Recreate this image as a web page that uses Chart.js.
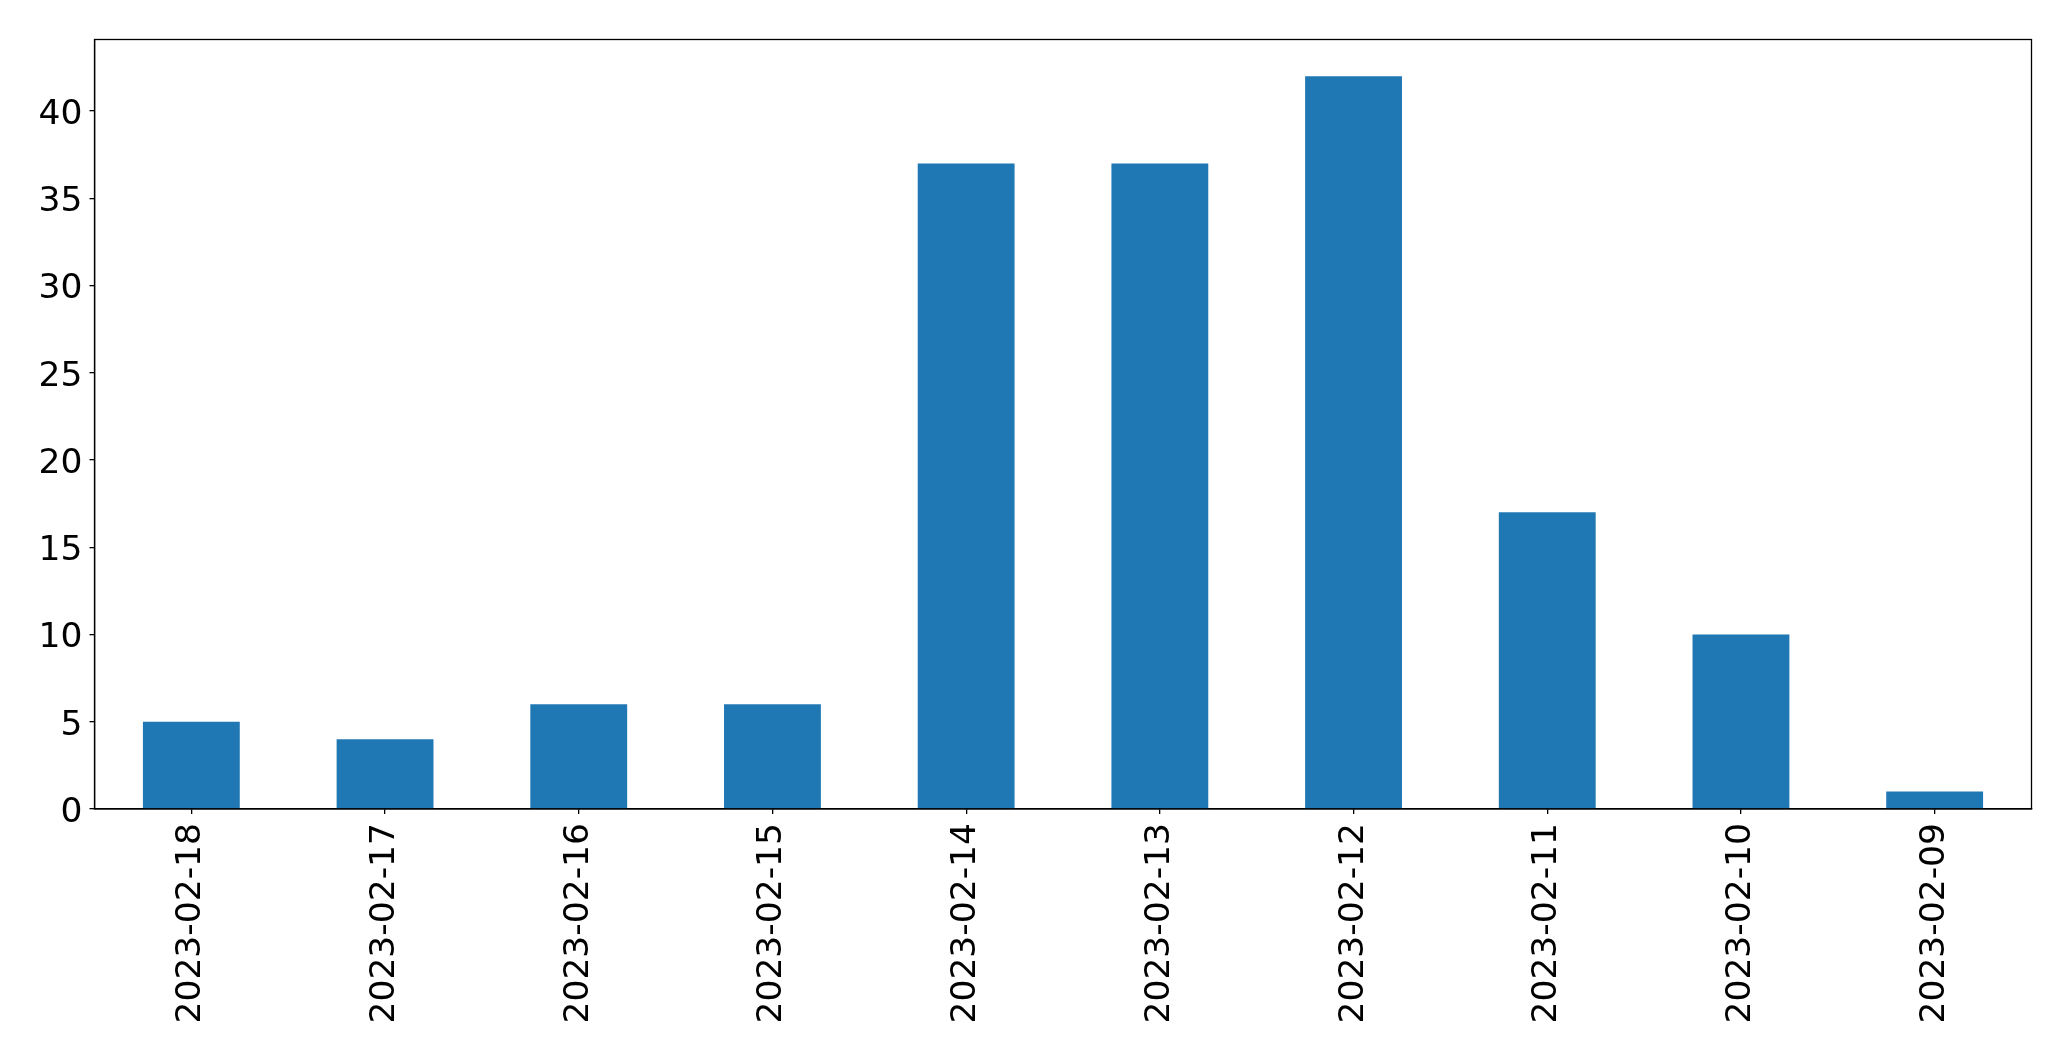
<!DOCTYPE html>
<html>
<head>
<meta charset="utf-8">
<script src="https://cdn.jsdelivr.net/npm/chart.js@4.4.1/dist/chart.umd.min.js"></script>
<style>
  html, body { margin: 0; padding: 0; background: #fff; }
  canvas { display: block; }
</style>
</head>
<body>
<canvas id="chart" width="2071" height="1061"></canvas>
<script>
const categories = ['2023-02-18', '2023-02-17', '2023-02-16', '2023-02-15', '2023-02-14',
  '2023-02-13', '2023-02-12', '2023-02-11', '2023-02-10', '2023-02-09'];
const counts = [5, 4, 6, 6, 37, 37, 42, 17, 10, 1];
const yTicks = [0, 5, 10, 15, 20, 25, 30, 35, 40];
const yMax = 44.1;

const FONT = 'DejaVu Sans';

// matplotlib-like frame around the axes
const frame = {
  id: 'frame',
  afterDraw(chart) {
    const { ctx, chartArea: a } = chart;
    ctx.save();
    ctx.strokeStyle = '#000';
    ctx.lineWidth = 1.3;
    ctx.strokeRect(a.left, a.top, a.right - a.left, a.bottom - a.top);
    ctx.restore();
  }
};

new Chart(document.getElementById('chart'), {
  type: 'bar',
  data: {
    labels: categories,
    datasets: [{
      data: counts,
      backgroundColor: '#1f77b4',
      borderWidth: 0,
      categoryPercentage: 1,
      barPercentage: 0.5
    }]
  },
  options: {
    responsive: false,
    animation: false,
    layout: { padding: { top: 39.5, right: 39.5, left: 0, bottom: 0 } },
    plugins: { legend: { display: false }, tooltip: { enabled: false } },
    scales: {
      x: {
        grid: { display: true, offset: false, drawOnChartArea: false, tickLength: 5, color: '#000', lineWidth: 1.3 },
        border: { display: true, color: '#000', width: 1.3 },
        ticks: {
          color: '#000',
          font: { family: FONT, size: 34.5 },
          minRotation: 90,
          maxRotation: 90,
          padding: 9,
          autoSkip: false
        },
        afterFit(scale) { scale.height = 252; }
      },
      y: {
        min: 0,
        max: yMax,
        grid: { display: true, drawOnChartArea: false, tickLength: 5, color: '#000', lineWidth: 1.3 },
        border: { display: true, color: '#000', width: 1.3 },
        ticks: {
          color: '#000',
          font: { family: FONT, size: 34.5 },
          padding: 7,
          labelOffset: 4
        },
        afterBuildTicks(scale) { scale.ticks = yTicks.map(v => ({ value: v })); },
        afterFit(scale) { scale.width = 94.5; }
      }
    }
  },
  plugins: [frame]
});
</script>
</body>
</html>
